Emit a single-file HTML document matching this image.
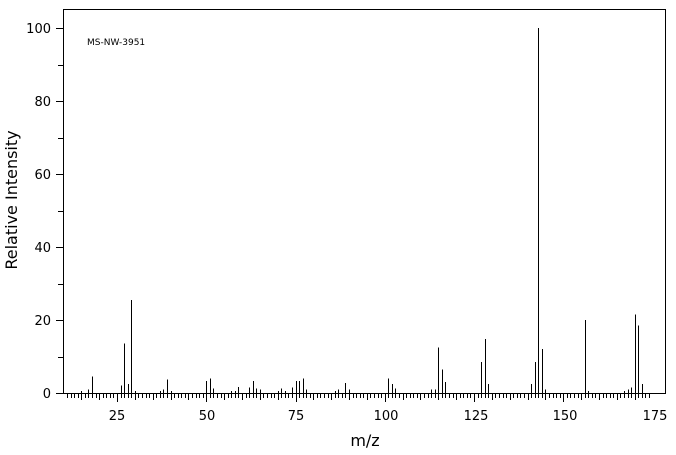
<!DOCTYPE html>
<html><head><meta charset="utf-8"><style>
body{margin:0;background:#fff;width:676px;height:455px;overflow:hidden}
svg{display:block}
text{font-family:"DejaVu Sans","Liberation Sans",sans-serif;fill:#000}
</style></head><body>
<svg id="s" width="676" height="455" xmlns="http://www.w3.org/2000/svg">
<g stroke="#000" stroke-width="1" fill="none" shape-rendering="crispEdges">
<polyline points="63.5,393 63.5,9.5 665.5,9.5 665.5,393"/>
<line x1="56" y1="393.5" x2="666" y2="393.5"/>
<line x1="56" y1="28.5" x2="63" y2="28.5"/>
<line x1="58" y1="65.5" x2="63" y2="65.5"/>
<line x1="56" y1="101.5" x2="63" y2="101.5"/>
<line x1="58" y1="138.5" x2="63" y2="138.5"/>
<line x1="56" y1="174.5" x2="63" y2="174.5"/>
<line x1="58" y1="211.5" x2="63" y2="211.5"/>
<line x1="56" y1="247.5" x2="63" y2="247.5"/>
<line x1="58" y1="284.5" x2="63" y2="284.5"/>
<line x1="56" y1="320.5" x2="63" y2="320.5"/>
<line x1="58" y1="357.5" x2="63" y2="357.5"/>
<g id="ticks"></g>
<g id="peaks"></g>
</g>
<g font-size="13" text-anchor="end">
<text x="51" y="33">100</text><text x="51" y="106">80</text><text x="51" y="179">60</text>
<text x="51" y="252">40</text><text x="51" y="325">20</text><text x="51" y="398">0</text>
</g>
<g font-size="13" text-anchor="middle">
<text x="117" y="420">25</text><text x="207" y="420">50</text><text x="296" y="420">75</text>
<text x="386" y="420">100</text><text x="476" y="420">125</text><text x="565" y="420">150</text><text x="655" y="420">175</text>
</g>
<text x="365" y="446" font-size="16" text-anchor="middle">m/z</text>
<text transform="translate(17,200) rotate(-90)" font-size="16" text-anchor="middle">Relative Intensity</text>
<text x="87" y="45" font-size="9">MS-NW-3951</text>
</svg>
<script>
var X=function(m){return 117+(m-25)*3.57;};
var Y=function(v){return 393-v*3.65;};
var t='';
for(var m=11;m<=174;m++){var x=Math.round(X(m))+0.5;var l=(m%25==0)?9:(m%5==0?7:5);t+='<line x1="'+x+'" y1="393" x2="'+x+'" y2="'+(393+l)+'"/>';}
document.getElementById('ticks').innerHTML=t;
var pk=[[15,0.5],[17,1],[18,4.5],[26,2],[27,13.5],[28,2.5],[29,25.5],[30,0.5],[37,0.6],[38,1],[39,3.7],[40,0.5],[50,3.3],[51,4],[52,1.2],[57,0.6],[58,0.6],[59,1.7],[62,1.5],[63,3.3],[64,1.3],[65,1],[70,0.6],[71,1.3],[72,0.5],[74,1.5],[75,3.3],[76,3.3],[77,4],[78,1],[86,0.5],[87,1],[89,2.8],[90,1],[101,4],[102,2.5],[103,1.2],[113,1],[114,1],[115,12.5],[116,6.5],[117,3],[127,8.5],[128,14.8],[129,2.5],[141,2.5],[142,8.5],[143,100],[144,12],[145,1],[156,20],[157,0.5],[167,0.6],[168,1],[169,1.5],[170,21.5],[171,18.5],[172,2.5]];
var p='';
pk.forEach(function(a){var x=Math.round(X(a[0]))+0.5;p+='<line x1="'+x+'" y1="393" x2="'+x+'" y2="'+Y(a[1]).toFixed(1)+'"/>';});
document.getElementById('peaks').innerHTML=p;
</script>
</body></html>
